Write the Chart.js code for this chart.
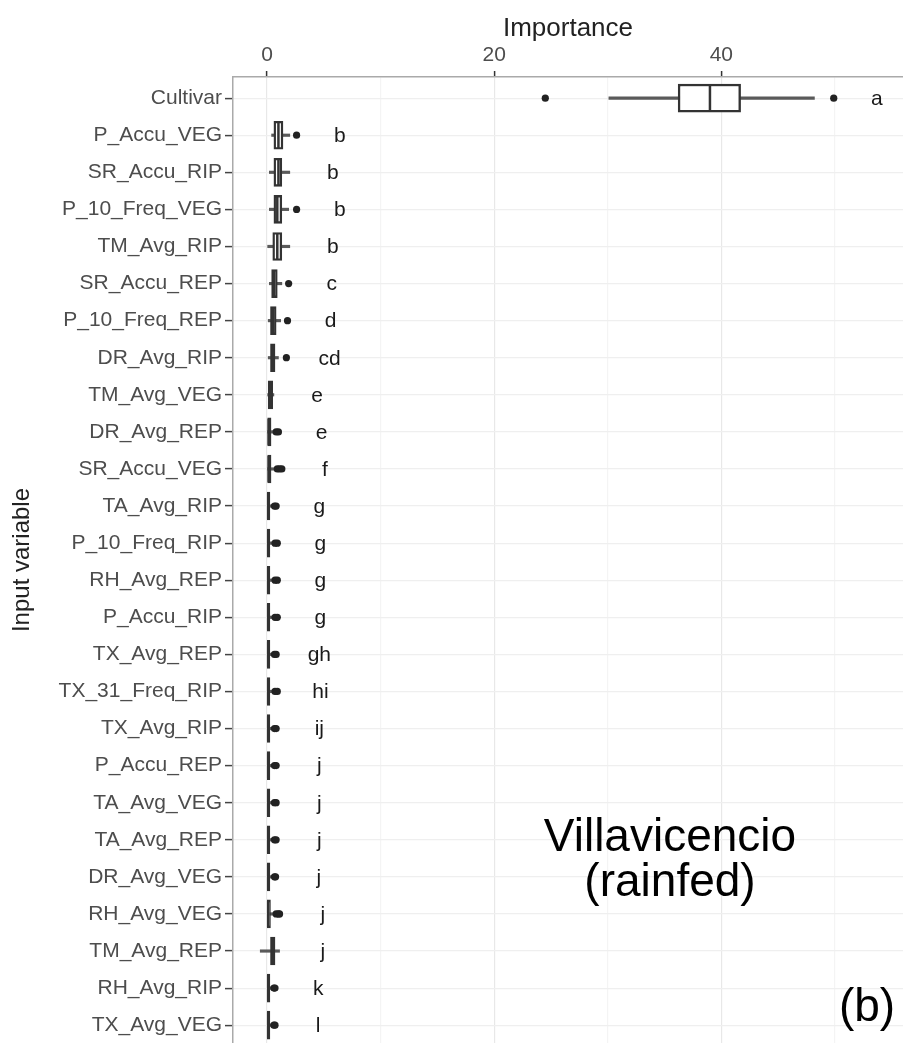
<!DOCTYPE html>
<html>
<head>
<meta charset="utf-8">
<title>Importance - Villavicencio (rainfed)</title>
<script src="https://cdn.jsdelivr.net/npm/chart.js@4"></script>
<style>
  html, body { margin: 0; padding: 0; background: #fff; }
  #wrap { width: 903px; height: 1043px; }
</style>
</head>
<body>
<div id="wrap"><canvas id="graph" width="903" height="1043"></canvas></div>
<script>
// categories, top to bottom
const varNames = [
  'Cultivar', 'P_Accu_VEG', 'SR_Accu_RIP', 'P_10_Freq_VEG', 'TM_Avg_RIP',
  'SR_Accu_REP', 'P_10_Freq_REP', 'DR_Avg_RIP', 'TM_Avg_VEG', 'DR_Avg_REP',
  'SR_Accu_VEG', 'TA_Avg_RIP', 'P_10_Freq_RIP', 'RH_Avg_REP', 'P_Accu_RIP',
  'TX_Avg_REP', 'TX_31_Freq_RIP', 'TX_Avg_RIP', 'P_Accu_REP', 'TA_Avg_VEG',
  'TA_Avg_REP', 'DR_Avg_VEG', 'RH_Avg_VEG', 'TM_Avg_REP', 'RH_Avg_RIP',
  'TX_Avg_VEG'
];

// boxplot stats
const whiskerLo = [30.1, 0.4, 0.2, 0.2, 0.0, 0.2, 0.1, 0.1, 0.0, 0.0,
  0.0, 0.0, 0.0, 0.0, 0.0, 0.0, 0.0, 0.0, 0.0, 0.0,
  0.0, 0.0, 0.0, -0.6, 0.0, 0.0];
const boxQ1 = [36.2, 0.6, 0.6, 0.6, 0.5, 0.4, 0.3, 0.3, 0.1, 0.05,
  0.05, 0.02, 0.02, 0.02, 0.02, 0.02, 0.02, 0.02, 0.02, 0.02,
  0.02, 0.02, 0.02, 0.3, 0.02, 0.02];
const boxMedian = [39.0, 1.0, 1.0, 0.9, 0.9, 0.6, 0.5, 0.5, 0.3, 0.15,
  0.15, 0.1, 0.1, 0.1, 0.1, 0.1, 0.1, 0.1, 0.1, 0.1,
  0.1, 0.1, 0.1, 0.5, 0.1, 0.1];
const boxQ3 = [41.7, 1.4, 1.3, 1.3, 1.3, 0.9, 0.8, 0.7, 0.5, 0.35,
  0.35, 0.25, 0.25, 0.25, 0.25, 0.25, 0.25, 0.25, 0.25, 0.25,
  0.25, 0.25, 0.3, 0.7, 0.25, 0.25];
const whiskerHi = [48.2, 2.0, 2.0, 1.9, 2.0, 1.3, 1.2, 1.0, 0.6, 0.6,
  0.7, 0.5, 0.5, 0.5, 0.5, 0.5, 0.5, 0.5, 0.5, 0.5,
  0.5, 0.5, 0.6, 1.1, 0.45, 0.45];
const outliers = [
  [24.5, 49.9], [2.6], [], [2.6], [], [1.9], [1.8], [1.7], [], [0.8, 1.0],
  [0.9, 1.1, 1.3], [0.65, 0.8], [0.7, 0.9], [0.7, 0.9], [0.7, 0.9],
  [0.65, 0.8], [0.7, 0.9], [0.65, 0.8], [0.65, 0.8], [0.65, 0.8],
  [0.65, 0.8], [0.65, 0.75], [0.8, 1.0, 1.1], [], [0.6, 0.7], [0.6, 0.7]
];
const sigLetters = ['a', 'b', 'b', 'b', 'b', 'c', 'd', 'cd', 'e', 'e', 'f',
  'g', 'g', 'g', 'g', 'gh', 'hi', 'ij', 'j', 'j', 'j', 'j', 'j', 'j', 'k', 'l'];

const xTicks = [0, 10, 20, 30, 40, 50];
const LETTER_GAP = 3.8;   // importance units right of the last mark
const FONT = "'Liberation Sans', Arial, sans-serif";

let context = document.querySelector('#graph');

let letterPlugin = {
  id: 'letters',
  afterDatasetsDraw(chart) {
    let ctx = chart.ctx;
    let xs = chart.scales.x;
    let ys = chart.scales.y;
    ctx.save();
    ctx.fillStyle = '#1a1a1a';
    ctx.font = '21px ' + FONT;
    ctx.textAlign = 'center';
    ctx.textBaseline = 'middle';
    sigLetters.forEach((letter, i) => {
      let far = Math.max(whiskerHi[i], ...outliers[i]);
      ctx.fillText(letter, xs.getPixelForValue(far + LETTER_GAP), ys.getPixelForValue(i) + 1);
    });
    ctx.restore();
  },
  afterDraw(chart) {
    let ctx = chart.ctx;
    ctx.save();
    ctx.fillStyle = '#000';
    ctx.font = '46px ' + FONT;
    ctx.textAlign = 'center';
    ctx.textBaseline = 'middle';
    ctx.fillText('Villavicencio', 670, 838);
    ctx.fillText('(rainfed)', 670, 883);
    ctx.fillText('(b)', 867, 1008);
    ctx.restore();
  }
};

function noPadding(scale) {
  scale.paddingLeft = 0;
  scale.paddingRight = 0;
  scale.paddingTop = 0;
  scale.paddingBottom = 0;
}

let graph = new Chart(context, {
  type: 'bar',
  data: {
    datasets: [
      {
        label: 'whiskers',
        order: 4,
        data: varNames.map((n, i) => ({ y: i, x: [whiskerLo[i], whiskerHi[i]] })),
        backgroundColor: '#5a5a5a',
        borderWidth: 0,
        barThickness: 2.5,
        grouped: false
      },
      {
        label: 'boxes',
        order: 3,
        data: varNames.map((n, i) => ({ y: i, x: [boxQ1[i], boxQ3[i]] })),
        backgroundColor: '#fff',
        borderColor: '#333',
        borderWidth: 2.4,
        borderSkipped: false,
        barThickness: 28,
        grouped: false
      },
      {
        type: 'scatter',
        label: 'median',
        order: 2,
        data: varNames.map((n, i) => ({ x: boxMedian[i], y: i })),
        pointStyle: 'line',
        pointRotation: 90,
        pointRadius: 13,
        pointBorderColor: '#333',
        pointBorderWidth: 2.5
      },
      {
        type: 'scatter',
        label: 'outliers',
        order: 1,
        data: outliers.flatMap((row, i) => row.map(v => ({ x: v, y: i }))),
        pointRadius: 3.6,
        pointBackgroundColor: '#222',
        pointBorderColor: '#222',
        pointBorderWidth: 0
      }
    ]
  },
  options: {
    indexAxis: 'y',
    responsive: false,
    animation: false,
    layout: { padding: 0, autoPadding: false },
    plugins: {
      legend: { display: false },
      tooltip: { enabled: false }
    },
    scales: {
      x: {
        type: 'linear',
        position: 'top',
        min: -3,
        max: 56,
        offset: false,
        afterBuildTicks: scale => { scale.ticks = xTicks.map(v => ({ value: v })); },
        afterFit: scale => { scale.height = 77; noPadding(scale); },
        ticks: {
          color: '#4d4d4d',
          font: { family: FONT, size: 21 },
          padding: 3,
          maxRotation: 0,
          callback: v => (v % 20 === 0 ? v : '')
        },
        grid: {
          offset: false,
          color: c => (c.tick && c.tick.value % 20 === 0 ? '#e8e8e8' : '#f4f4f4'),
          lineWidth: 1.2,
          tickLength: 6,
          tickColor: c => (c.tick && c.tick.value % 20 === 0 ? '#333' : 'rgba(0,0,0,0)'),
          tickWidth: 1.5
        },
        border: { display: true, color: '#aaa', width: 1.5 },
        title: {
          display: true,
          text: 'Importance',
          color: '#222',
          font: { family: FONT, size: 26 },
          padding: { top: 13, bottom: 0 }
        }
      },
      y: {
        type: 'linear',
        reverse: true,
        min: -0.57,
        max: 25.48,
        offset: false,
        afterBuildTicks: scale => { scale.ticks = varNames.map((n, i) => ({ value: i })); },
        afterFit: scale => { scale.width = 233; noPadding(scale); },
        ticks: {
          color: '#4d4d4d',
          font: { family: FONT, size: 21 },
          padding: 3,
          autoSkip: false,
          callback: v => varNames[v]
        },
        grid: {
          offset: false,
          color: '#efefef',
          lineWidth: 1.2,
          tickLength: 8,
          tickColor: '#444',
          tickWidth: 1.5
        },
        border: { display: true, color: '#aaa', width: 1.5 },
        title: {
          display: true,
          text: 'Input variable',
          color: '#222',
          font: { family: FONT, size: 24 },
          padding: { top: 8, bottom: 0 }
        }
      }
    }
  },
  plugins: [letterPlugin]
});
</script>
</body>
</html>
